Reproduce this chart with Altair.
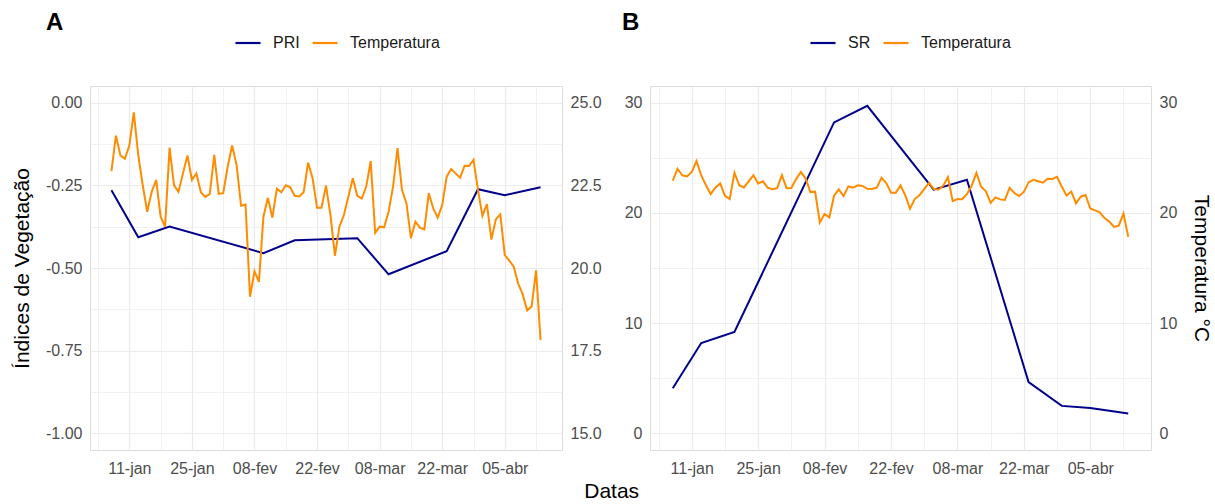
import altair as alt
import pandas as pd

# Vegetation-index sampling dates and values
datas_indices = ["2021-01-07", "2021-01-13", "2021-01-20", "2021-02-10", "2021-02-17",
                 "2021-03-03", "2021-03-10", "2021-03-23", "2021-03-30", "2021-04-05",
                 "2021-04-13"]
pri = [-0.265, -0.407, -0.375, -0.455, -0.416, -0.410, -0.519, -0.449, -0.262, -0.280, -0.256]
sr = [4.1, 8.2, 9.2, 28.2, 29.7, 22.1, 23.0, 4.65, 2.5, 2.3, 1.8]

# Daily mean air temperature (°C), one value per day from 7 Jan
temp_inicio = "2021-01-07"
temperatura = [
    22.93, 24.00, 23.40, 23.30, 23.70, 24.70, 23.40, 22.50, 21.70, 22.30,
    22.66, 21.55, 21.25, 23.64, 22.50, 22.30, 22.86, 23.40, 22.66, 22.86,
    22.29, 22.15, 22.24, 23.42, 22.24, 22.26, 23.06, 23.70, 23.11, 21.88,
    21.92, 19.13, 19.90, 19.58, 21.55, 22.12, 21.52, 22.40, 22.29, 22.50,
    22.44, 22.18, 22.16, 22.29, 23.18, 22.71, 21.82, 21.82, 22.49, 21.60,
    20.37, 21.25, 21.60, 22.15, 22.71, 22.18, 22.10, 22.46, 23.23, 21.06,
    21.25, 21.23, 21.70, 22.46, 23.62, 22.36, 21.95, 20.90, 21.40, 21.22,
    21.17, 22.26, 21.80, 21.52, 21.90, 22.76, 22.99, 22.86, 22.73, 23.09,
    23.08, 23.27, 22.36, 21.58, 21.93, 20.86, 21.47, 21.62, 20.39, 20.22,
    20.04, 19.53, 19.21, 18.72, 18.84, 19.93, 17.82,
]

# Axis breaks
x_major = ["2021-01-11", "2021-01-25", "2021-02-08", "2021-02-22",
           "2021-03-08", "2021-03-22", "2021-04-05"]
x_minor = ["2021-01-04", "2021-01-18", "2021-02-01", "2021-02-15",
           "2021-03-01", "2021-03-15", "2021-03-29", "2021-04-12"]
meses = ["jan", "fev", "mar", "abr", "mai", "jun", "jul", "ago", "set", "out", "nov", "dez"]

pri_lim = [-1.0, 0.0]
pri_major = [-1.0, -0.75, -0.5, -0.25, 0.0]
pri_minor = [-0.875, -0.625, -0.375, -0.125]
temp_lim_a = [15.0, 25.0]
temp_ticks_a = [15.0, 17.5, 20.0, 22.5, 25.0]

sr_lim = [0, 30]
sr_major = [0, 10, 20, 30]
sr_minor = [5, 15, 25]
temp_lim_b = [0, 30]
temp_ticks_b = [0, 10, 20, 30]

FONT = "Liberation Sans"
AZUL = "#00008B"
LARANJA = "#FF8C00"
GRID = "#EBEBEB"
LABEL = "#4D4D4D"
PLOT_H = 364


def ms(s):
    return int(pd.Timestamp(s, tz="UTC").value // 10**6)


def expand(lo, hi, f=0.05):
    d = hi - lo
    return [lo - f * d, hi + f * d]


dias_temp = pd.date_range(temp_inicio, periods=len(temperatura), freq="D")
df_temp = pd.DataFrame({"data": dias_temp.strftime("%Y-%m-%d"),
                        "valor": temperatura, "serie": "Temperatura"})

t0 = min(ms(datas_indices[0]), ms(df_temp["data"].iloc[0]))
t1 = max(ms(datas_indices[-1]), ms(df_temp["data"].iloc[-1]))
x_domain = expand(t0, t1)

mes_expr = "[" + ",".join("'%s'" % m for m in meses) + "]"
x_label_expr = "utcFormat(datum.value, '%d') + '-' + " + mes_expr + "[utcmonth(datum.value)]"

x_scale = alt.Scale(type="utc", domain=x_domain, nice=False)

x_axis_minor = alt.Axis(values=[ms(d) for d in x_minor], grid=True, gridColor=GRID,
                        gridWidth=0.7, labels=False, ticks=False, domain=False,
                        title=None, orient="bottom")
x_axis_major = alt.Axis(values=[ms(d) for d in x_major], grid=True, gridColor=GRID,
                        gridWidth=1.2, labelExpr=x_label_expr, labelFont=FONT,
                        labelFontSize=16, labelColor=LABEL, labelPadding=10,
                        labelOverlap=False, ticks=False, tickSize=0, domain=False,
                        title=None, orient="bottom")


def painel(nome, datas, valores, lim, major, minor, fmt_expr, t_lim, t_ticks, t_fmt,
           left_title, right_title, width, tag, tag_dx, leg_x):
    df_idx = pd.DataFrame({"data": datas, "valor": valores, "serie": nome})
    cores = alt.Scale(domain=[nome, "Temperatura"], range=[AZUL, LARANJA])
    legenda = alt.Legend(orient="none", legendX=leg_x, legendY=-57, direction="horizontal",
                         title=None, symbolType="stroke", symbolSize=625,
                         symbolStrokeWidth=2.2, labelFont=FONT, labelFontSize=16,
                         labelColor="#1A1A1A", labelOffset=11, columnPadding=8)
    y_dom = expand(*lim)
    t_dom = expand(*t_lim)

    grade = alt.Chart(df_idx).mark_line(opacity=0).encode(
        x=alt.X("data:T", scale=x_scale, axis=x_axis_minor),
        y=alt.Y("valor:Q", scale=alt.Scale(domain=y_dom, nice=False, zero=False),
                axis=alt.Axis(values=minor, grid=True, gridColor=GRID, gridWidth=0.7,
                              labels=False, ticks=False, domain=False, title=None,
                              orient="left")),
    )

    left_axis = dict(values=major, grid=True, gridColor=GRID, gridWidth=1.2,
                     labelExpr=fmt_expr, labelFont=FONT, labelFontSize=16,
                     labelColor=LABEL, labelPadding=8, ticks=False, tickSize=0,
                     domain=False, orient="left")
    if left_title:
        left_axis.update(title=left_title, titleFont=FONT, titleFontSize=21,
                         titleFontWeight="normal", titleColor="black", titlePadding=13)
    else:
        left_axis.update(title=None)

    indice = alt.Chart(df_idx).mark_line(strokeWidth=2).encode(
        x=alt.X("data:T", scale=x_scale, axis=x_axis_major),
        y=alt.Y("valor:Q", scale=alt.Scale(domain=y_dom, nice=False, zero=False),
                axis=alt.Axis(**left_axis)),
        color=alt.Color("serie:N", scale=cores, legend=legenda),
    )

    right_axis = dict(values=t_ticks, grid=False, format=t_fmt, labelFont=FONT,
                      labelFontSize=16, labelColor=LABEL, labelPadding=8, ticks=False,
                      tickSize=0, domain=False, orient="right")
    if right_title:
        right_axis.update(title=right_title, titleFont=FONT, titleFontSize=21,
                          titleFontWeight="normal", titleColor="black", titlePadding=14)
    else:
        right_axis.update(title=None)

    temp = alt.Chart(df_temp).mark_line(strokeWidth=2).encode(
        x=alt.X("data:T", scale=x_scale, axis=None),
        y=alt.Y("valor:Q", scale=alt.Scale(domain=t_dom, nice=False, zero=False),
                axis=alt.Axis(**right_axis)),
        color=alt.Color("serie:N", scale=cores, legend=legenda),
    )

    return alt.layer(grade, indice, temp).resolve_scale(
        y="independent"
    ).resolve_axis(
        x="independent", y="independent"
    ).properties(
        width=width, height=PLOT_H,
        title=alt.TitleParams(tag, anchor="start", frame="group", dx=tag_dx, fontSize=24,
                              fontWeight="bold", font=FONT, color="black", offset=-6),
    )


pri_fmt = "replace(format(datum.value, '.2f'), '\u2212', '-')"
sr_fmt = "format(datum.value, 'd')"

painel_a = painel("PRI", datas_indices, pri, pri_lim, pri_major, pri_minor, pri_fmt,
                  temp_lim_a, temp_ticks_a, ".1f", "Índices de Vegetação", None,
                  472, "A", -44, 144)
painel_b = painel("SR", datas_indices, sr, sr_lim, sr_major, sr_minor, sr_fmt,
                  temp_lim_b, temp_ticks_b, "d", None, "Temperatura °C",
                  501, "B", -28, 159)

chart = alt.hconcat(painel_a, painel_b, spacing=88, bounds="flush").resolve_scale(
    x="independent", y="independent", color="independent"
).resolve_legend(
    color="independent"
).properties(
    title=alt.TitleParams("Datas", orient="bottom", anchor="middle", fontSize=21,
                          font=FONT, fontWeight="normal", color="black", offset=4),
    padding={"left": 11, "top": 10, "right": 2, "bottom": 0},
).configure_view(
    stroke=None
).configure(
    background="white"
)

chart.save("out.html", embed_options={"renderer": "svg", "actions": False})
